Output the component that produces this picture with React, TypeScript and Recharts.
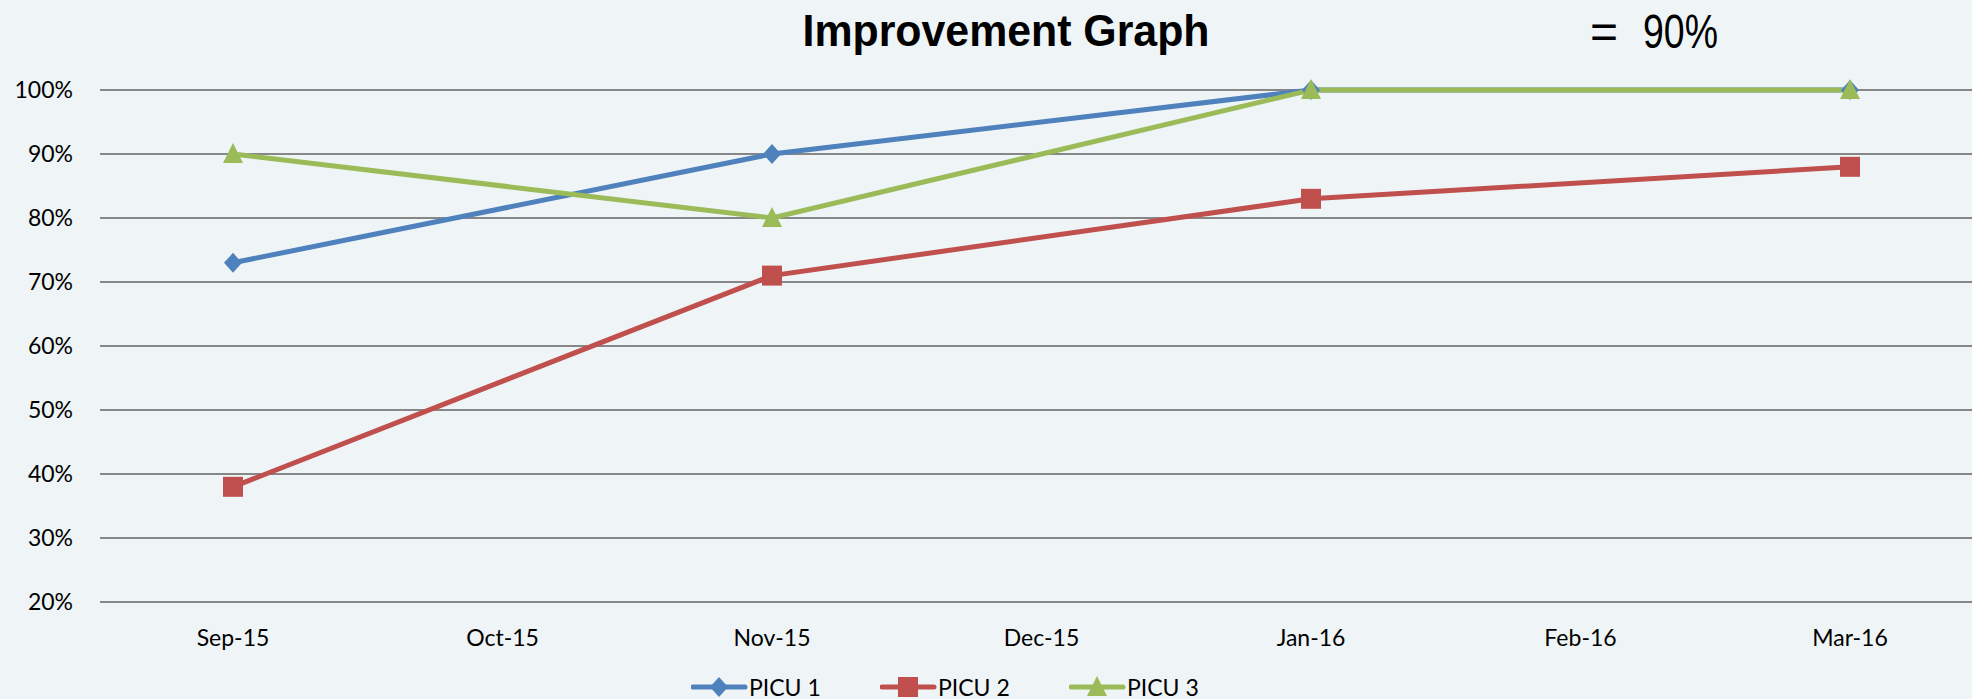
import React from 'react';
import { LineChart, Line, XAxis, YAxis, CartesianGrid, Legend } from 'recharts';

const months = ['Sep-15', 'Oct-15', 'Nov-15', 'Dec-15', 'Jan-16', 'Feb-16', 'Mar-16'];
const picu1 = [73, null, 90, null, 100, null, 100];
const picu2 = [38, null, 71, null, 83, null, 88];
const picu3 = [90, null, 80, null, 100, null, 100];
const yTicks = [20, 30, 40, 50, 60, 70, 80, 90, 100];

const BLUE = '#4F81BD';
const RED = '#C0504D';
const GREEN = '#9BBB59';
const FONT = 'Lato, "Open Sans", sans-serif';
const NARROW = '"Liberation Sans Narrow", "Liberation Sans", sans-serif';

const data = months.map((m, i) => ({ month: m, p1: picu1[i], p2: picu2[i], p3: picu3[i] }));

const Diamond = ({ cx, cy, fill }: any) =>
  cx == null || cy == null ? null : (
    <polygon points={`${cx},${cy - 10} ${cx + 9},${cy} ${cx},${cy + 10} ${cx - 9},${cy}`} fill={fill} />
  );

const Square = ({ cx, cy, fill }: any) =>
  cx == null || cy == null ? null : <rect x={cx - 10} y={cy - 10} width={20} height={20} fill={fill} />;

const Triangle = ({ cx, cy, fill }: any) =>
  cx == null || cy == null ? null : (
    <polygon points={`${cx},${cy - 11} ${cx + 10},${cy + 9} ${cx - 10},${cy + 9}`} fill={fill} />
  );

const legendItems = [
  { name: 'PICU 1', color: BLUE, Marker: Diamond },
  { name: 'PICU 2', color: RED, Marker: Square },
  { name: 'PICU 3', color: GREEN, Marker: Triangle },
];

const CustomLegend = () => (
  <div style={{ height: 45, display: 'flex', paddingLeft: 691, paddingTop: 21, boxSizing: 'border-box' }}>
    {legendItems.map(({ name, color, Marker }) => (
      <div key={name} style={{ display: 'flex', alignItems: 'center', width: 189, height: 24 }}>
        <svg width={58} height={24}>
          <line x1={2} y1={12} x2={54} y2={12} stroke={color} strokeWidth={5} strokeLinecap="round" />
          <Marker cx={28} cy={12} fill={color} />
        </svg>
        <span style={{ fontFamily: FONT, fontSize: 23, color: '#000', lineHeight: '24px' }}>{name}</span>
      </div>
    ))}
  </div>
);

export default function App() {
  return (
    <div style={{ position: 'absolute', left: 0, top: 0, width: 1972, height: 699, background: '#EFF4F7' }}>
      <LineChart width={1972} height={699} data={data} margin={{ top: 90, right: 0, left: 0, bottom: 0 }}>
        <text x={1006} y={46} textAnchor="middle" fontFamily={NARROW} fontWeight="bold" fontSize={45}
          textLength={407} lengthAdjust="spacingAndGlyphs" fill="#000">
          Improvement Graph
        </text>
        <text x={1590} y={48} fontFamily={NARROW} fontSize={48} fill="#000">=</text>
        <text x={1643} y={48} fontFamily={NARROW} fontSize={48} fill="#000"
          textLength={75} lengthAdjust="spacingAndGlyphs">90%</text>
        <CartesianGrid vertical={false} stroke="#878787" strokeWidth={2} />
        <XAxis dataKey="month" axisLine={false} tickLine={false} tickSize={0} tickMargin={28} height={52}
          padding={{ left: 133, right: 122 }} interval={0}
          tick={{ fill: '#000', fontSize: 23, fontFamily: FONT }} />
        <YAxis domain={[20, 100]} ticks={yTicks} width={100} axisLine={false} tickLine={false} tickSize={0}
          tickMargin={27} tickFormatter={(v) => `${v}%`}
          tick={{ fill: '#000', fontSize: 23, fontFamily: FONT }} />
        <Legend verticalAlign="bottom" content={<CustomLegend />} />
        <Line dataKey="p1" name="PICU 1" stroke={BLUE} strokeWidth={5} connectNulls dot={<Diamond fill={BLUE} />}
          activeDot={false} isAnimationActive={false} />
        <Line dataKey="p2" name="PICU 2" stroke={RED} strokeWidth={5} connectNulls dot={<Square fill={RED} />}
          activeDot={false} isAnimationActive={false} />
        <Line dataKey="p3" name="PICU 3" stroke={GREEN} strokeWidth={5} connectNulls dot={<Triangle fill={GREEN} />}
          activeDot={false} isAnimationActive={false} />
      </LineChart>
    </div>
  );
}
